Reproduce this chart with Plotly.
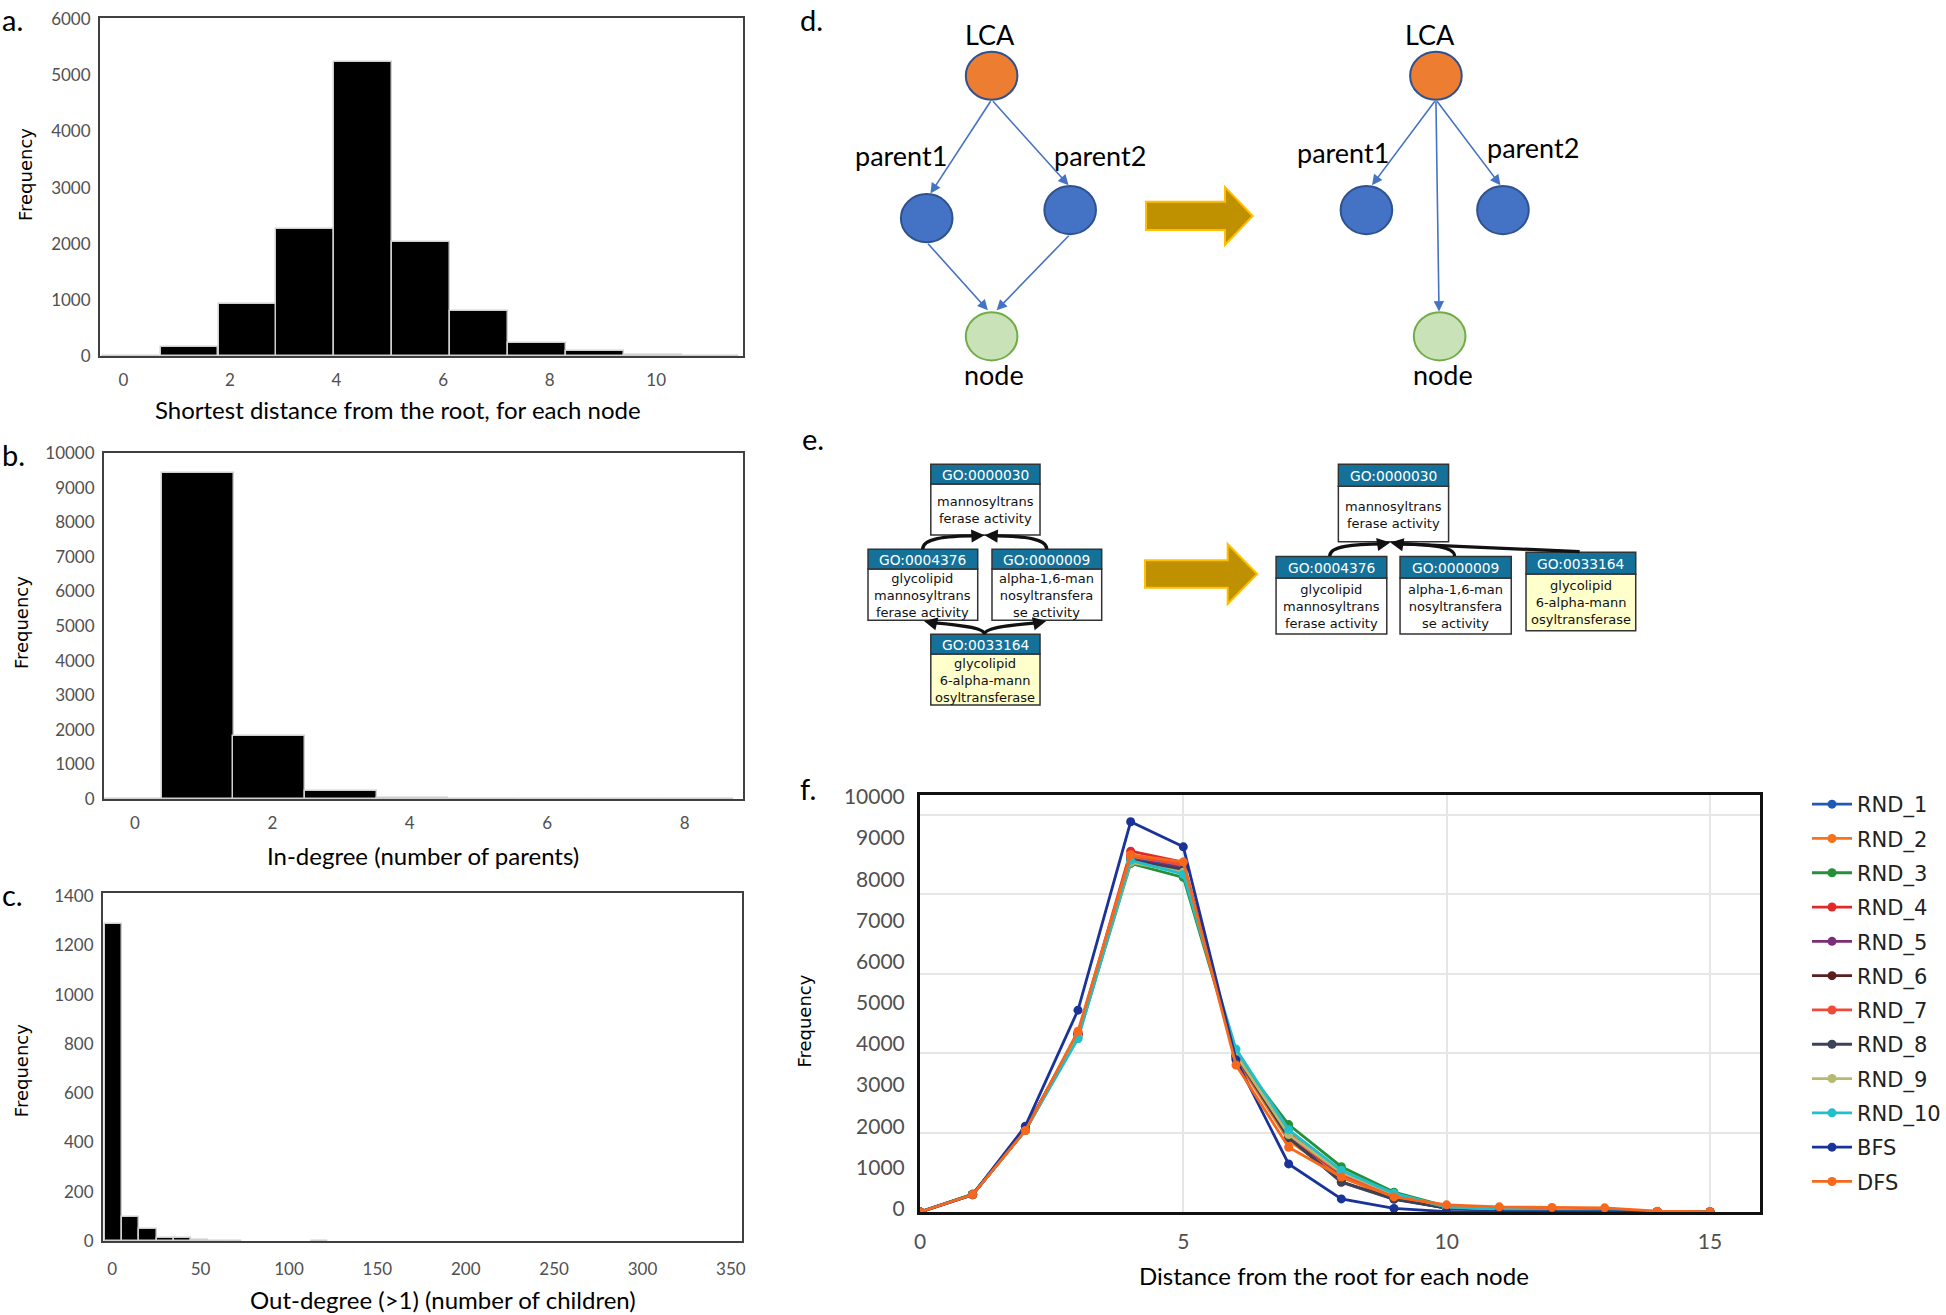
import plotly.graph_objects as go

W, H = 1946, 1315            # browser window
OFF = 0                      # page margin (removed in the html page)
FW, FH = W - 2 * OFF, H - 2 * OFF
CW, CH = 1568, 1060          # canvas units used for the diagram layer
K = W / CW

# ---------------- data ----------------
# a. shortest distance from root (histogram)
a_bins = [0.15, 1.24, 2.33, 3.41, 4.50, 5.59, 6.67, 7.76, 8.85, 9.94, 11.02]
a_freq = [3, 160, 930, 2255, 5240, 2030, 795, 240, 95, 15, 5]
# b. in-degree
b_bins = [-0.12, 0.92, 1.95, 3.0, 4.04, 5.08, 6.12, 7.16, 8.2]
b_freq = [0, 9420, 1810, 240, 15, 0, 0, 0, 0]
# c. out-degree (>1)
c_bins = [0.85, 10.55, 20.25, 29.95, 39.65, 49.35, 59.05, 68.75, 117.25]
c_freq = [1289, 97, 50, 13, 13, 3, 2, 2, 2]

# f. distance from root per traversal
f_x = [0, 1, 2, 3, 4, 5, 6, 7, 8, 9, 10, 11, 12, 13, 14, 15]
RND_1 = [0, 430, 2080, 4500, 8900, 8700, 3900, 1850, 900, 350, 90, 50, 25, 10, 0, 0]
RND_2 = [0, 440, 2060, 4480, 8950, 8750, 3850, 1800, 870, 380, 110, 80, 60, 40, 10, 5]
RND_3 = [0, 450, 2070, 4400, 8770, 8420, 3950, 2200, 1140, 500, 140, 70, 40, 20, 5, 0]
RND_4 = [0, 440, 2070, 4480, 9080, 8800, 3900, 1980, 980, 420, 120, 75, 45, 25, 10, 5]
RND_5 = [0, 440, 2060, 4470, 8860, 8650, 3920, 1900, 950, 400, 115, 65, 35, 15, 5, 0]
RND_6 = [0, 440, 2060, 4460, 8850, 8600, 3930, 1880, 760, 330, 100, 55, 30, 15, 5, 0]
RND_7 = [0, 440, 2070, 4490, 8980, 8720, 3880, 1920, 960, 410, 120, 70, 40, 20, 5, 0]
RND_8 = [0, 440, 2060, 4460, 8830, 8620, 3940, 1870, 750, 320, 95, 50, 25, 10, 5, 0]
RND_9 = [0, 440, 2050, 4420, 8800, 8550, 3960, 1950, 1000, 450, 130, 70, 40, 20, 5, 0]
RND_10 = [0, 445, 2050, 4360, 8850, 8500, 4100, 2070, 1050, 470, 130, 65, 35, 15, 5, 0]
BFS = [0, 440, 2160, 5080, 9820, 9190, 3830, 1210, 330, 90, 10, 5, 0, 0, 0, 0]
DFS = [0, 440, 2050, 4550, 8990, 8810, 3700, 1630, 880, 380, 180, 130, 115, 105, 20, 10]
f_names = ["RND_1", "RND_2", "RND_3", "RND_4", "RND_5", "RND_6", "RND_7",
           "RND_8", "RND_9", "RND_10", "BFS", "DFS"]
f_series = [RND_1, RND_2, RND_3, RND_4, RND_5, RND_6, RND_7, RND_8, RND_9, RND_10, BFS, DFS]
f_colors = ['#1f5bb5', '#f5731c', '#25903a', '#e02a2a', '#7b2d7b', '#5b1e1e',
            '#ef4a3a', '#3c4257', '#b8b870', '#20bfc9', '#1a3399', '#f7681c']

# d. LCA diagram (node names and diagram layout)
d_nodes = ["LCA", "parent1", "parent2", "node"]
d_left_xy = [(799, 61), (746.7, 175.8), (862.3, 169.3), (799, 271)]
d_right_xy = [(1157, 61), (1101, 169.3), (1211, 169.3), (1160, 271)]
d_left_lbl = [(798, 27.5), (726, 125), (886, 125), (801, 302)]
d_right_lbl = [(1152, 27.5), (1082, 122.5), (1235, 118.5), (1163, 302)]
d_fill = ['#ED7D31', '#4472C4', '#4472C4', '#C9E2B8']
d_edge = ['#2F528F', '#2F528F', '#2F528F', '#70AD47']

# e. GO example
go_ids = ["GO:0000030", "GO:0004376", "GO:0000009", "GO:0033164"]
go_names = [["mannosyltrans", "ferase activity"],
            ["glycolipid", "mannosyltrans", "ferase activity"],
            ["alpha-1,6-man", "nosyltransfera", "se activity"],
            ["glycolipid", "6-alpha-mann", "osyltransferase"]]
go_body = ['white', 'white', 'white', '#FFFFCC']
e_left_box = [(750, 838, 374, 390, 431), (699.4, 787.8, 442.6, 458.5, 499.7),
              (799.3, 887.7, 442.6, 458.5, 499.7), (750, 838, 511, 527, 568)]
e_right_box = [(1078.4, 1167.2, 374, 391.8, 436.5), (1028.2, 1117.4, 448.4, 465.7, 510.9),
               (1128.1, 1217.7, 448.4, 465.7, 510.9), (1229.6, 1318, 445, 462.5, 508.2)]

# ---------------- helpers ----------------
LATO = "Lato, Carlito, Calibri, sans-serif"
GOTH = "DejaVu Sans, Verdana, sans-serif"
GOF = "DejaVu Sans, Verdana, sans-serif"
TICKC = '#505050'


def xdom(p0, p1):
    return [(p0 - OFF) / FW, (p1 - OFF) / FW]


def ydom(top, bot):
    return [1 - (bot - OFF) / FH, 1 - (top - OFF) / FH]


def box_axis(**kw):
    d = dict(showline=True, mirror=True, linecolor='#404040', linewidth=2,
             showgrid=False, zeroline=False, ticks='outside', ticklen=4,
             tickcolor='rgba(0,0,0,0)', tickformat='d',
             tickfont=dict(family=LATO, size=17, color=TICKC))
    d.update(kw)
    return d


shapes = []
annotations = []


def txt(x, y, s, size, family=LATO, color='black', **kw):
    d = dict(x=x, y=y, xref='x9', yref='y9', text=s, showarrow=False,
             font=dict(family=family, size=size, color=color),
             xanchor='center', yanchor='middle')
    d.update(kw)
    annotations.append(d)


def arrow(tip, tail, color, width, size=1.0):
    annotations.append(dict(x=tip[0], y=tip[1], ax=tail[0], ay=tail[1],
                            xref='x9', yref='y9', axref='x9', ayref='y9',
                            text='', showarrow=True, arrowhead=2, arrowsize=size,
                            arrowwidth=width, arrowcolor=color, standoff=0))


def gold_arrow(x0, xh, xt, yc, hb, hh):
    p = (f"M {x0} {yc-hb} L {xh} {yc-hb} L {xh} {yc-hh} L {xt} {yc} "
         f"L {xh} {yc+hh} L {xh} {yc+hb} L {x0} {yc+hb} Z")
    shapes.append(dict(type='path', path=p, xref='x9', yref='y9',
                       fillcolor='#BF9000', line=dict(color='#FFC000', width=2)))


fig = go.Figure()

bar_style = dict(color='black', line=dict(color='#cfcfcf', width=1.5))
fig.add_trace(go.Bar(x=a_bins, y=a_freq, width=1.088, marker=bar_style,
                     xaxis='x', yaxis='y', showlegend=False))
fig.add_trace(go.Bar(x=b_bins, y=b_freq, width=1.04, marker=bar_style,
                     xaxis='x2', yaxis='y2', showlegend=False))
fig.add_trace(go.Bar(x=c_bins, y=c_freq, width=9.7, marker=bar_style,
                     xaxis='x3', yaxis='y3', showlegend=False))

for name, ys, col in zip(f_names, f_series, f_colors):
    fig.add_trace(go.Scatter(x=f_x, y=ys, name=name, mode='lines+markers',
                             line=dict(color=col, width=2.8),
                             marker=dict(color=col, size=9),
                             xaxis='x6', yaxis='y6', legendgroup=name))
fig.add_trace(go.Scatter(x=[], y=[], xaxis='x6', yaxis='y7', showlegend=False))
fig.add_trace(go.Scatter(x=[], y=[], xaxis='x9', yaxis='y9', showlegend=False))

# ---------------- diagram d ----------------
rx, ry = 20.8, 19.4
for pos, lbls in ((d_left_xy, d_left_lbl), (d_right_xy, d_right_lbl)):
    for (cx, cy), (lx, ly), name, fc, ec in zip(pos, lbls, d_nodes, d_fill, d_edge):
        shapes.append(dict(type='circle', xref='x9', yref='y9',
                           x0=cx - rx, x1=cx + rx, y0=cy - ry, y1=cy + ry,
                           fillcolor=fc, line=dict(color=ec, width=2)))
        txt(lx, ly, name, 27)

BLUE = '#4472C4'
L = d_left_xy
arrow((749.7, 156), (L[0][0], L[0][1] + ry), BLUE, 1.6, 1.3)
arrow((861, 149.3), (L[0][0], L[0][1] + ry), BLUE, 1.6, 1.3)
arrow((796, 250), (L[1][0], L[1][1] + ry), BLUE, 1.6, 1.3)
arrow((803, 250), (L[2][0], L[2][1] + ry), BLUE, 1.6, 1.3)
R = d_right_xy
arrow((1105.5, 149.3), (R[0][0], R[0][1] + ry), BLUE, 1.6, 1.3)
arrow((1209, 149.3), (R[0][0], R[0][1] + ry), BLUE, 1.6, 1.3)
arrow((1159.5, 251), (R[0][0], R[0][1] + ry), BLUE, 1.6, 1.3)
gold_arrow(923.4, 987, 1009.4, 174, 11.4, 23.4)

# ---------------- diagram e ----------------
for boxes in (e_left_box, e_right_box):
    for (x0, x1, ht, hb, bb), gid, lines, bcol in zip(boxes, go_ids, go_names, go_body):
        shapes.append(dict(type='rect', xref='x9', yref='y9', x0=x0, x1=x1, y0=hb, y1=bb,
                           fillcolor=bcol, line=dict(color='#333333', width=1.5)))
        shapes.append(dict(type='rect', xref='x9', yref='y9', x0=x0, x1=x1, y0=ht, y1=hb,
                           fillcolor='#14719a', line=dict(color='#333333', width=1.5)))
        txt((x0 + x1) / 2, (ht + hb) / 2 + 0.5, gid, 13.8, GOF, 'white')
        txt((x0 + x1) / 2, (hb + bb) / 2 + 0.5, "<br>".join(lines), 13, GOF, '#111111')

BLK = '#111111'
curves = ["M 743.4 442.6 C 743.4 434 760 432 788 431.6",
          "M 843.5 442.6 C 843.5 434 826 432 798 431.6",
          "M 793.3 511 C 793.3 505 765 503 749 501.5",
          "M 793.3 511 C 793.3 505 822 503 839 501.5",
          "M 1071.4 448 C 1071.4 440 1090 438.5 1115 438.3",
          "M 1172 448 C 1172 440 1150 438.5 1125 438.3",
          "M 1272.8 444.5 L 1125 438"]
for c in curves:
    shapes.append(dict(type='path', path=c, xref='x9', yref='y9',
                       line=dict(color=BLK, width=3.2)))
arrow((793.3, 431.3), (786, 431.7), BLK, 2.4, 1.1)
arrow((793.3, 431.3), (800, 431.7), BLK, 2.4, 1.1)
arrow((744.5, 500.3), (751, 501.8), BLK, 2.4, 1.1)
arrow((843, 500.3), (836, 501.8), BLK, 2.4, 1.1)
arrow((1120.2, 437.2), (1113, 438.3), BLK, 2.4, 1.1)
arrow((1120.2, 437.2), (1127, 438.3), BLK, 2.4, 1.1)
gold_arrow(922.6, 989.2, 1013, 462.5, 11, 24.2)

# ---------------- labels ----------------
for lab, x, y in (("a.", 0, 16), ("b.", 0, 366), ("c.", 0, 721),
                  ("d.", 643, 15.5), ("e.", 645, 353), ("f.", 643, 635)):
    txt(x, y, lab, 29, xanchor='left')

txt(321, 330, "Shortest distance from the root, for each node", 24)
txt(341, 689, "In-degree (number of parents)", 24)
txt(357, 1047, "Out-degree (>1) (number of children)", 24)
txt(1075, 1028, "Distance from the root for each node", 24)
for x, y in ((21, 141), (17, 502), (17, 863), (648, 823)):
    txt(x, y, "Frequency", 18, GOTH, textangle=-90)

# ---------------- layout ----------------
fig.update_layout(
    width=FW, height=FH, autosize=False,
    margin=dict(l=0, r=0, t=0, b=0, pad=0, autoexpand=False),
    paper_bgcolor='white', plot_bgcolor='rgba(0,0,0,0)',
    bargap=0,
    xaxis=box_axis(domain=xdom(100, 743), range=[-0.44, 11.63],
                   tickvals=[0, 2, 4, 6, 8, 10], ticklen=8, anchor='y'),
    yaxis=box_axis(domain=ydom(18, 356), range=[0, 6020],
                   tickvals=[0, 1000, 2000, 3000, 4000, 5000, 6000], anchor='x'),
    xaxis2=box_axis(domain=xdom(104, 743), range=[-0.45, 8.85],
                    tickvals=[0, 2, 4, 6, 8], ticklen=8, anchor='y2'),
    yaxis2=box_axis(domain=ydom(453, 799), range=[0, 10000],
                    tickvals=list(range(0, 10001, 1000)), anchor='x2'),
    xaxis3=box_axis(domain=xdom(103, 742), range=[-5.2, 356.3],
                    tickvals=[0, 50, 100, 150, 200, 250, 300, 350], ticklen=12, anchor='y3'),
    yaxis3=box_axis(domain=ydom(893, 1241), range=[0, 1413],
                    tickvals=[0, 200, 400, 600, 800, 1000, 1200, 1400], anchor='x3'),
    xaxis6=dict(domain=xdom(920, 1760), range=[0, 15.95], anchor='y6',
                tickvals=[0, 5, 10, 15], showgrid=True, gridcolor='#e6e6e6', gridwidth=1.5,
                showline=True, mirror=True, linecolor='#111111', linewidth=2.5,
                zeroline=False, ticks='outside', ticklen=9, tickcolor='rgba(0,0,0,0)',
                tickfont=dict(family=LATO, size=21, color=TICKC)),
    yaxis6=dict(domain=ydom(795, 1212), range=[0, 10494], anchor='x6',
                dtick=2000, tick0=0, showgrid=True, gridcolor='#e6e6e6', gridwidth=1.5,
                showticklabels=False, showline=True, mirror=True, linecolor='#111111',
                linewidth=2.5, zeroline=False),
    yaxis7=dict(overlaying='y6', anchor='x6', range=[-85, 10044],
                tickvals=list(range(0, 10001, 1000)), tickformat='d',
                showgrid=False, showline=False,
                zeroline=False, ticks='outside', ticklen=10, tickcolor='rgba(0,0,0,0)',
                tickfont=dict(family=LATO, size=21, color=TICKC)),
    xaxis9=dict(domain=[0, 1], range=[OFF / K, (OFF + FW) / K], visible=False,
                anchor='y9', fixedrange=True),
    yaxis9=dict(domain=[0, 1], range=[(OFF + FH) / K, OFF / K], visible=False,
                anchor='x9', fixedrange=True),
    legend=dict(x=(1807 - OFF) / FW, y=1 - (784 - OFF) / FH, xanchor='left', yanchor='top',
                font=dict(family=GOTH, size=21, color='#222222'),
                bgcolor='rgba(0,0,0,0)', tracegroupgap=4, itemwidth=40),
    shapes=shapes, annotations=annotations,
)

fig.write_html("out.html", config={'displayModeBar': False},
               post_script="document.body.style.margin='0';"
                           "document.documentElement.style.overflow='hidden';")
